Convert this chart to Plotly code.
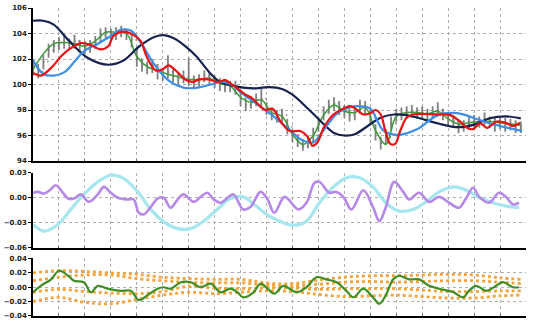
import plotly.graph_objects as go

# ---------------- top panel: price bars ----------------
x_bars = list(range(0, 190, 2))
close = [101.3, 101.0, 101.8, 102.7, 103.0, 103.2, 103.3, 103.2, 103.4, 103.1,
         102.9, 103.0, 103.3, 103.9, 104.1, 104.0, 104.0, 104.2, 104.0, 103.5,
         102.0, 101.5, 101.3, 101.5, 101.0, 100.8, 101.0, 100.7, 100.5, 100.6,
         100.4, 100.2, 100.3, 100.7, 100.5, 100.2, 100.0, 99.9, 99.9, 99.8,
         98.9, 98.4, 98.6, 98.8, 98.9, 98.1, 97.7, 97.5, 97.6, 96.7,
         96.0, 95.6, 95.2, 95.5, 96.0, 96.9, 97.8, 98.3, 98.5, 98.2,
         97.9, 97.6, 97.8, 98.3, 98.2, 97.4, 96.2, 95.4, 95.9, 97.0,
         97.6, 97.7, 97.8, 97.9, 97.8, 97.8, 97.7, 97.8, 98.0, 97.7,
         97.3, 97.1, 96.8, 96.8, 97.0, 97.1, 97.1, 97.3, 97.1, 96.9,
         97.0, 96.9, 96.9, 96.8, 96.7]
high = [101.9, 101.6, 102.3, 103.2, 103.5, 103.7, 103.8, 103.6, 103.9, 103.5,
        103.4, 103.5, 103.8, 104.4, 104.5, 104.4, 104.5, 104.6, 104.4, 104.0,
        102.8, 102.0, 101.8, 102.0, 101.6, 101.3, 102.3, 101.2, 101.0, 101.1,
        102.1, 100.7, 100.8, 101.1, 101.0, 100.7, 100.5, 100.4, 100.3, 100.3,
        99.6, 98.9, 99.1, 99.3, 99.7, 98.6, 98.2, 98.0, 98.1, 97.3,
        96.5, 96.1, 95.7, 96.0, 96.6, 97.4, 98.3, 98.8, 99.0, 98.7,
        98.4, 98.1, 98.3, 98.8, 98.7, 98.0, 96.9, 95.9, 96.5, 97.5,
        98.1, 98.2, 98.3, 98.4, 98.2, 98.3, 98.1, 98.3, 98.6, 98.1,
        97.8, 97.5, 97.3, 97.2, 97.5, 97.6, 97.5, 97.8, 97.5, 97.4,
        97.4, 97.4, 97.3, 97.2, 97.1]
low = [100.7, 100.5, 101.2, 102.1, 102.5, 102.7, 102.8, 102.7, 102.8, 102.6,
       102.4, 102.5, 102.8, 103.3, 103.6, 103.5, 103.5, 103.7, 103.5, 102.9,
       101.4, 101.0, 100.8, 100.9, 100.4, 100.3, 100.5, 100.2, 100.0, 100.1,
       99.9, 99.7, 99.8, 100.2, 100.0, 99.7, 99.5, 99.4, 99.4, 99.2,
       98.3, 97.9, 98.1, 98.3, 98.3, 97.6, 97.2, 97.0, 97.0, 96.1,
       95.5, 95.1, 94.8, 95.0, 95.4, 96.3, 97.2, 97.7, 97.9, 97.6,
       97.4, 97.1, 97.2, 97.7, 97.6, 96.8, 95.6, 94.9, 95.3, 96.4,
       97.1, 97.2, 97.3, 97.4, 97.3, 97.3, 97.2, 97.3, 97.5, 97.2,
       96.8, 96.6, 96.2, 96.3, 96.5, 96.6, 96.6, 96.8, 96.6, 96.3,
       96.5, 96.3, 96.4, 96.2, 96.2]
first_open = 101.4
open_ = [first_open] + close[:-1]

# ---------------- top panel: lines ----------------
x_navy = [0, 4, 8, 14, 21, 29, 35, 41, 47, 51, 55, 59, 63, 68, 72, 76, 81, 86, 91, 96,
          100, 106, 111, 116, 120, 124, 129, 134, 139, 144, 149, 156, 164, 170, 176, 182, 188]
navy = [105.0, 105.0, 104.7, 103.4, 102.1, 101.55, 101.9, 103.0, 103.75, 103.86, 103.55,
        102.95, 102.2, 100.95, 100.2, 99.95, 99.75, 99.7, 99.8, 99.65,
        99.2, 98.1, 97.1, 96.2, 96.0, 96.1, 96.75, 97.4, 97.65, 97.6, 97.35, 96.95,
        96.65, 96.85, 97.35, 97.5, 97.35]

x_blue = [0, 1.5, 4.2, 8, 12, 16, 19.6, 25, 30, 34, 38, 41.5, 45.4, 48.5, 53, 58, 63.5,
          68.5, 73, 77, 80, 85, 91.5, 98, 104, 108, 112, 117, 122, 126, 130, 135, 140,
          148, 156, 163.5, 171, 177, 183, 188.5]
blue = [101.95, 101.4, 100.8, 100.7, 100.95, 101.8, 102.6, 103.2, 103.8, 104.3, 104.2,
        103.3, 102.0, 101.1, 100.2, 99.75, 99.75, 100.0, 100.2, 99.95, 99.4, 98.65, 97.7,
        96.6, 95.6, 95.45, 96.4, 97.7, 98.2, 98.3, 98.1, 96.4, 96.05, 96.5, 97.6, 97.75,
        97.3, 96.9, 96.6, 96.35]

x_red = [0, 3, 7, 11, 14.6, 18.5, 22.3, 26, 29, 31, 35, 39, 41.5, 44, 47.3, 50, 52.3, 55,
         59, 61.5, 64, 67.7, 71.5, 74, 77, 79, 82, 84.6, 87, 89.6, 92.3, 95.4, 99, 103,
         106, 107.7, 109.6, 112, 115.8, 119.6, 122.3, 125, 127.3, 130, 132, 134, 135.8,
         137.7, 139.6, 141.5, 144, 146.5, 156, 160.8, 164.6, 167.3, 169.6, 172.3, 175,
         178.8, 182.7, 185, 187.7]
red = [100.9, 100.7, 101.3, 102.25, 102.85, 103.25, 103.1, 102.75, 103.0, 103.8, 104.15,
       103.85, 103.4, 102.1, 101.1, 101.2, 101.5, 101.1, 100.35, 100.2, 100.4, 100.4,
       100.2, 100.35, 99.95, 99.65, 99.2, 98.9, 98.4, 98.0, 98.1, 97.1, 96.35, 96.35,
       95.85, 95.2, 95.45, 96.6, 97.65, 98.1, 98.3, 98.0, 97.65, 97.75, 98.0, 97.65,
       96.35, 95.35, 95.35, 96.35, 97.4, 97.65, 97.65, 97.6, 97.1, 96.6, 96.5, 96.95,
       96.6, 97.1, 96.95, 96.75, 97.0]

x_green = list(range(0, 189, 4))
green = [101.2, 102.4, 103.2, 103.3, 103.2, 103.0, 103.4, 104.1, 104.1, 104.0,
         102.2, 101.4, 101.1, 100.8, 100.6, 100.4, 100.4, 100.5, 100.1, 99.9,
         99.0, 98.6, 98.8, 97.8, 97.5, 96.1, 95.3, 96.0, 97.6, 98.4,
         97.9, 97.8, 98.2, 96.4, 95.3, 97.5, 97.8, 97.8, 97.7, 97.9,
         97.3, 96.9, 97.0, 97.1, 97.1, 97.0, 96.9, 96.8]

# ---------------- middle panel ----------------
x_cyan = [0, 4.2, 9.6, 14.6, 19.6, 25, 30, 35, 40.4, 45.4, 50.4, 55.8, 60.8, 65.8, 71,
          76, 81, 86, 90, 95, 100.4, 105.4, 110.4, 115.8, 120.8, 125.8, 131, 136, 141,
          146.5, 151.5, 156.5, 162, 167, 172, 177.3, 182.3, 187.3]
cyan = [-0.032, -0.040, -0.032, -0.014, 0.004, 0.019, 0.027, 0.023, 0.007, -0.014,
        -0.029, -0.037, -0.037, -0.028, -0.014, -0.001, 0.001, -0.010, -0.020, -0.028,
        -0.033, -0.028, -0.006, 0.013, 0.024, 0.024, 0.013, -0.006, -0.016, -0.014,
        -0.005, 0.007, 0.013, 0.009, 0.0, -0.006, -0.010, -0.012]

x_purple = [0, 2, 4.2, 6.5, 8.8, 11.5, 13.5, 15.8, 18.5, 21.5, 25, 27.3, 30, 32.7, 36.5,
            38.8, 40.8, 42.7, 45.4, 48, 50.4, 53, 55.8, 58, 62, 64.6, 67.3, 69.6, 72.3,
            75, 77.3, 81, 83.8, 87.7, 90.4, 93, 97, 102.3, 105.4, 108.5, 110.4, 114.2,
            117, 119.6, 122.7, 127.3, 131, 133.5, 136, 139.2, 142.7, 145, 148.8, 152.7,
            156.5, 160.4, 164.2, 167, 169.6, 172, 175.8, 179.6, 182.3, 185, 187.3]
purple = [0.006, 0.007, 0.005, 0.009, 0.015, 0.006, -0.001, -0.001, 0.004, -0.005,
          0.004, 0.013, 0.006, 0.0, -0.002, -0.002, -0.018, -0.020, -0.011, -0.001,
          0.0, -0.012, -0.002, 0.004, -0.005, 0.001, 0.006, -0.002, -0.006, 0.0,
          0.004, -0.014, -0.011, 0.007, -0.002, -0.018, 0.001, -0.014, -0.006, 0.018,
          0.019, 0.006, 0.007, 0.001, -0.014, 0.009, -0.011, -0.028, -0.011, 0.019,
          0.007, -0.002, 0.006, -0.005, 0.001, -0.006, -0.012, 0.0, 0.012, 0.001,
          -0.006, 0.006, 0.001, -0.008, -0.006]

# ---------------- bottom panel ----------------
x_osc = [0, 3, 7, 10, 13.5, 15.8, 19.6, 22.3, 25, 28.8, 33.8, 37.7, 40.8, 44.2, 48, 50.4,
         53, 57, 60.8, 64.6, 68.5, 72.3, 76, 78.8, 81, 85, 87.7, 90.4, 93, 96.5, 101.5,
         105.4, 109.2, 113, 117, 120.8, 123.5, 127.3, 131, 133.5, 136, 138.8, 141, 145,
         148.8, 152.7, 156.5, 162, 165.8, 168, 170.8, 174.6, 178.5, 181, 185, 187.3]
osc = [-0.007, 0.002, 0.011, 0.023, 0.016, 0.009, 0.007, -0.007, 0.002, -0.002,
       -0.005, -0.005, -0.018, -0.011, -0.002, 0.0, -0.002, 0.007, 0.007, 0.0,
       0.005, -0.007, -0.002, -0.007, -0.014, -0.007, 0.005, -0.002, -0.009, 0.002,
       -0.007, 0.0, 0.014, 0.011, 0.007, -0.005, -0.014, -0.002, -0.014, -0.023,
       -0.011, 0.011, 0.016, 0.011, 0.011, 0.002, -0.002, -0.007, -0.014, -0.005,
       0.002, -0.005, 0.002, 0.007, 0.0, 0.0]

x_band = [0, 10, 20, 30, 40, 50, 60, 70, 80, 90, 100, 110, 120, 130, 140, 150, 160, 170, 180, 188]
band_a = [0.020, 0.023, 0.022, 0.020, 0.018, 0.014, 0.012, 0.011, 0.011, 0.006,
          0.005, 0.010, 0.014, 0.016, 0.016, 0.017, 0.018, 0.017, 0.013, 0.011]
band_b = [0.009, 0.014, 0.017, 0.017, 0.012, 0.009, 0.007, 0.006, 0.006, 0.003,
          0.002, 0.004, 0.007, 0.008, 0.007, 0.008, 0.009, 0.009, 0.007, 0.005]
band_c = [-0.007, -0.003, -0.006, -0.008, -0.009, -0.006, 0.001, -0.001, -0.002, -0.001,
          -0.001, -0.003, -0.002, -0.002, -0.002, -0.004, -0.006, -0.006, -0.005, -0.005]
band_d = [-0.020, -0.014, -0.021, -0.023, -0.017, -0.011, -0.007, -0.009, -0.007, -0.005,
          -0.006, -0.010, -0.013, -0.012, -0.011, -0.013, -0.015, -0.015, -0.012, -0.011]

fig = go.Figure()

fig.add_trace(go.Ohlc(x=x_bars, open=open_, high=high, low=low, close=close,
                      increasing_line_color="#808080", decreasing_line_color="#808080",
                      line_width=1.8, tickwidth=0.25, xaxis="x", yaxis="y", showlegend=False))

def line(x, y, color, width, xa, ya, dash="solid", opacity=1.0):
    fig.add_trace(go.Scatter(x=x, y=y, mode="lines", xaxis=xa, yaxis=ya, opacity=opacity,
                             line=dict(color=color, width=width, shape="spline", dash=dash),
                             showlegend=False, hoverinfo="skip"))

line(x_green, green, "#3f9a3a", 1.5, "x", "y")
line(x_navy, navy, "#17234f", 2.2, "x", "y")
line(x_blue, blue, "#3c8ee6", 2.2, "x", "y")
line(x_red, red, "#e81212", 2.2, "x", "y")

line(x_cyan, cyan, "#a6e6ee", 3.2, "x2", "y2")
line(x_purple, purple, "#b688e8", 2.6, "x2", "y2")

for b in (band_a, band_b, band_c, band_d):
    line(x_band, b, "#f4a43a", 2.8, "x3", "y3", dash="dot")
line(x_osc, osc, "#3e8e24", 2.2, "x3", "y3")

grid = dict(showgrid=True, gridcolor="#b0b0b0", griddash="dot", gridwidth=1)
tickfont = dict(family="DejaVu Sans", size=7, color="#222222", weight="bold")
xcommon = dict(range=[0, 190], dtick=10, tick0=0, showticklabels=False, zeroline=False,
               showline=True, linecolor="black", linewidth=1.5, ticks="inside", ticklen=2,
               tickcolor="#666666", **grid)
ycommon = dict(showline=True, linecolor="black", linewidth=1.5, ticks="outside", ticklen=3,
               tickcolor="black", tickfont=tickfont, zeroline=False, **grid)

fig.update_layout(
    width=536, height=324,
    margin=dict(l=32, r=10, t=4, b=4),
    paper_bgcolor="white", plot_bgcolor="white",
    xaxis=dict(anchor="y", domain=[0, 1], rangeslider=dict(visible=False), **xcommon),
    xaxis2=dict(anchor="y2", domain=[0, 1], **xcommon),
    xaxis3=dict(anchor="y3", domain=[0, 1], **xcommon),
    yaxis=dict(anchor="x", domain=[0.5032, 1], range=[94, 106], dtick=2, tickformat="d", **ycommon),
    yaxis2=dict(anchor="x2", domain=[0.2215, 0.4652], range=[-0.06, 0.03], dtick=0.03,
                tickformat=".2f", **ycommon),
    yaxis3=dict(anchor="x3", domain=[0, 0.1867], range=[-0.04, 0.04], dtick=0.02,
                tickformat=".2f", **ycommon),
)

fig.write_html("out.html")
